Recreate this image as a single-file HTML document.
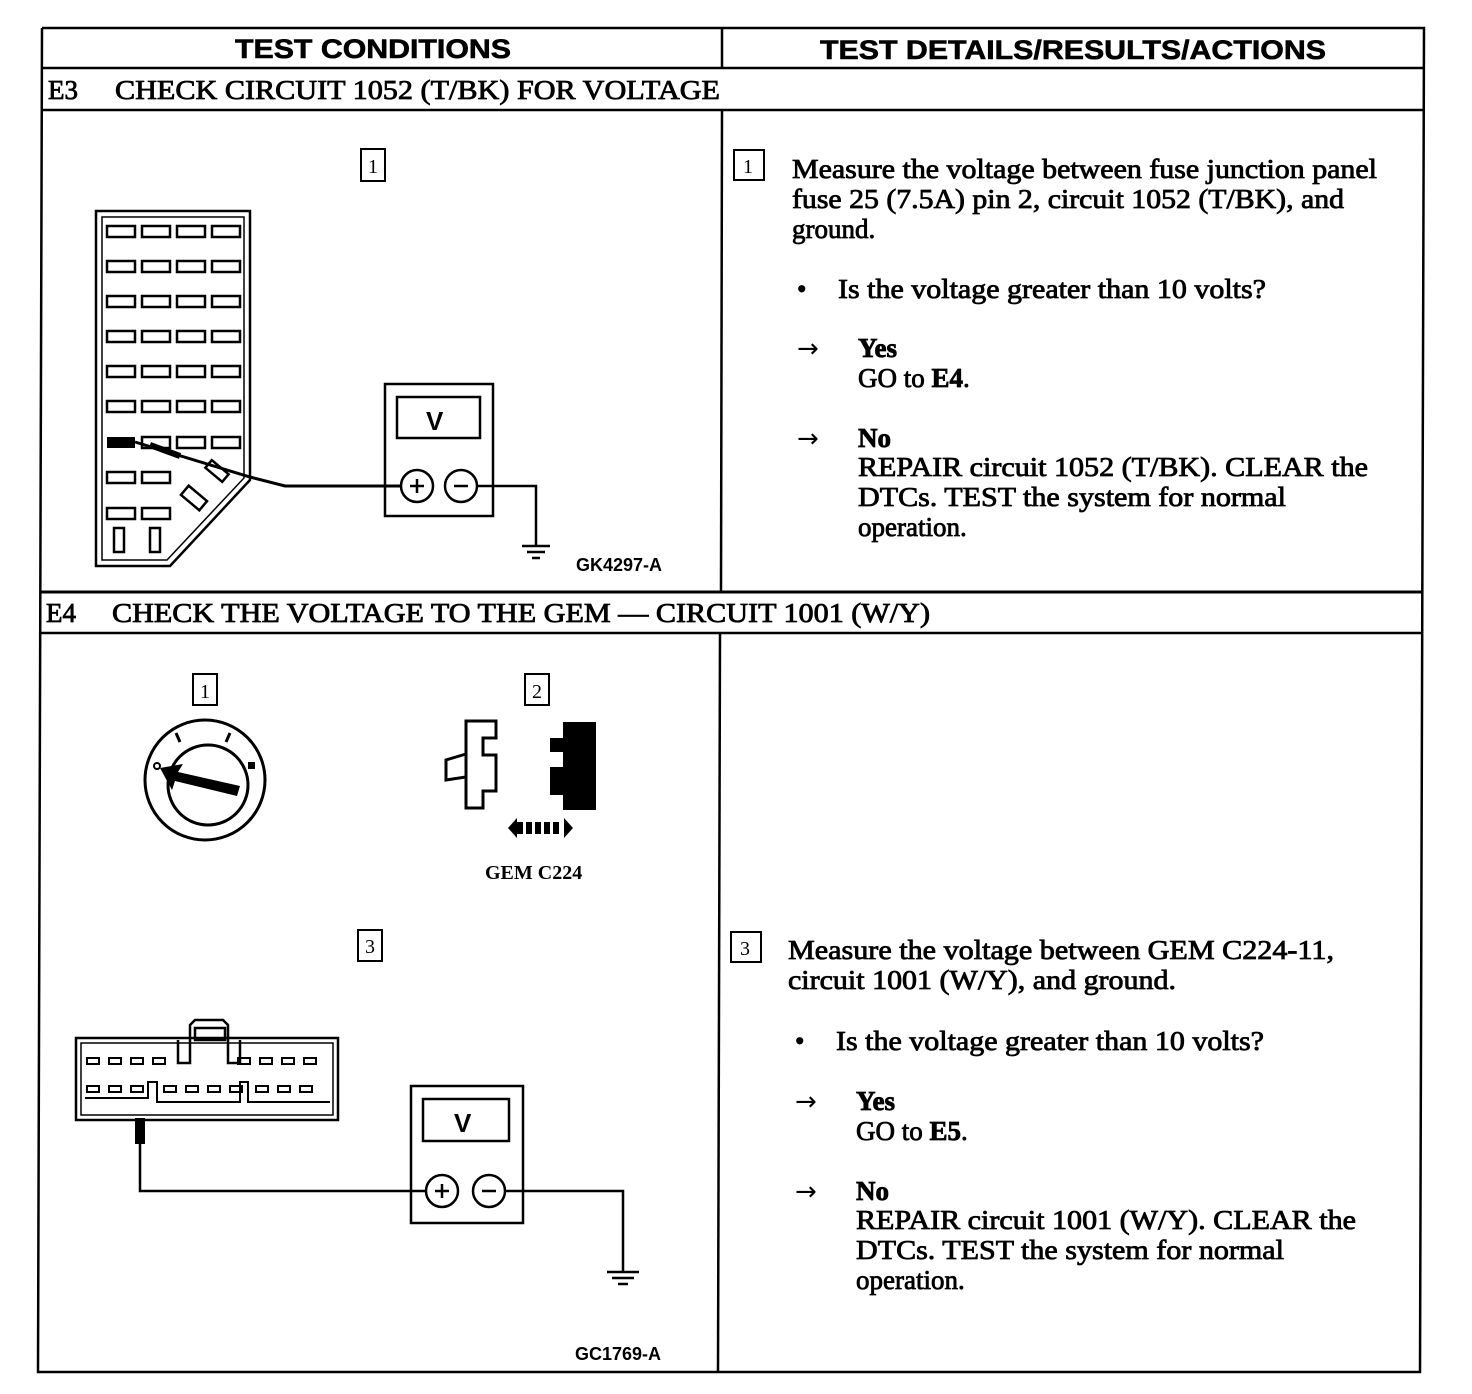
<!DOCTYPE html>
<html><head><meta charset="utf-8"><style>
html,body{margin:0;padding:0;background:#fff;}
svg{display:block;}
.t{font-family:"Liberation Serif",serif;font-size:27px;fill:#000;stroke:#000;stroke-width:0.8;}
.b{font-weight:bold;}
.a{font-family:"DejaVu Sans",sans-serif;font-size:26px;fill:#000;}
.h{font-family:"Liberation Sans",sans-serif;font-weight:bold;font-size:27px;fill:#000;stroke:#000;stroke-width:0.6;}
.s{font-family:"Liberation Sans",sans-serif;font-weight:bold;font-size:18px;fill:#000;}
.n{font-family:"Liberation Serif",serif;font-size:20px;fill:#000;}
</style></head><body>
<svg width="1472" height="1394" viewBox="0 0 1472 1394" xmlns="http://www.w3.org/2000/svg">
<g stroke="#000" fill="none" stroke-width="2.5">
<polyline points="42,28 1424,28 1420,1372 38,1372 42,28"/>
<line x1="42" y1="68" x2="1424" y2="68"/>
<line x1="42" y1="110" x2="1424" y2="110"/>
<line x1="41" y1="592" x2="1422" y2="592" stroke-width="3"/>
<line x1="41" y1="633" x2="1422" y2="633"/>
<line x1="722" y1="28" x2="722" y2="68"/>
<line x1="722" y1="110" x2="721" y2="592"/>
<line x1="720" y1="633" x2="718" y2="1372"/>
</g>
<text class="h" x="235" y="58" textLength="276" lengthAdjust="spacingAndGlyphs">TEST CONDITIONS</text>
<text class="h" x="820" y="59" textLength="506" lengthAdjust="spacingAndGlyphs">TEST DETAILS/RESULTS/ACTIONS</text>
<text class="t" x="48" y="99">E3</text>
<text class="t" x="115" y="99" textLength="605" lengthAdjust="spacingAndGlyphs">CHECK CIRCUIT 1052 (T/BK) FOR VOLTAGE</text>
<text class="t" x="46" y="622">E4</text>
<text class="t" x="112" y="622" textLength="818" lengthAdjust="spacingAndGlyphs">CHECK THE VOLTAGE TO THE GEM — CIRCUIT 1001 (W/Y)</text>

<g stroke="#000" fill="none" stroke-width="2"><rect x="734" y="150" width="30" height="30"/><rect x="361" y="149" width="24" height="32"/>
<rect x="731" y="932" width="30" height="30"/><rect x="358" y="930" width="24" height="31"/>
<rect x="193" y="674" width="24" height="31"/><rect x="525" y="674" width="24" height="31"/></g>
<text class="n" x="743" y="173">1</text><text class="n" x="368" y="173">1</text>
<text class="n" x="740" y="955">3</text><text class="n" x="365" y="953">3</text>
<text class="n" x="200" y="698">1</text><text class="n" x="532" y="698">2</text>

<text class="t" x="792" y="178" textLength="585" lengthAdjust="spacingAndGlyphs">Measure the voltage between fuse junction panel</text>
<text class="t" x="792" y="208" textLength="552" lengthAdjust="spacingAndGlyphs">fuse 25 (7.5A) pin 2, circuit 1052 (T/BK), and</text>
<text class="t" x="792" y="238">ground.</text>
<text class="t" x="797" y="298">•</text>
<text class="t" x="838" y="298" textLength="428" lengthAdjust="spacingAndGlyphs">Is the voltage greater than 10 volts?</text>
<text class="a" x="797" y="357">→</text>
<text class="t b" x="858" y="357">Yes</text>
<text class="t" x="858" y="387">GO to <tspan class="b">E4</tspan>.</text>
<text class="a" x="797" y="447">→</text>
<text class="t b" x="858" y="447">No</text>
<text class="t" x="858" y="476" textLength="510" lengthAdjust="spacingAndGlyphs">REPAIR circuit 1052 (T/BK). CLEAR the</text>
<text class="t" x="858" y="506" textLength="428" lengthAdjust="spacingAndGlyphs">DTCs. TEST the system for normal</text>
<text class="t" x="858" y="536">operation.</text>

<text class="t" x="788" y="959" textLength="546" lengthAdjust="spacingAndGlyphs">Measure the voltage between GEM C224-11,</text>
<text class="t" x="788" y="989" textLength="388" lengthAdjust="spacingAndGlyphs">circuit 1001 (W/Y), and ground.</text>
<text class="t" x="795" y="1050">•</text>
<text class="t" x="836" y="1050" textLength="428" lengthAdjust="spacingAndGlyphs">Is the voltage greater than 10 volts?</text>
<text class="a" x="795" y="1110">→</text>
<text class="t b" x="856" y="1110">Yes</text>
<text class="t" x="856" y="1140">GO to <tspan class="b">E5</tspan>.</text>
<text class="a" x="795" y="1200">→</text>
<text class="t b" x="856" y="1200">No</text>
<text class="t" x="856" y="1229" textLength="500" lengthAdjust="spacingAndGlyphs">REPAIR circuit 1001 (W/Y). CLEAR the</text>
<text class="t" x="856" y="1259" textLength="428" lengthAdjust="spacingAndGlyphs">DTCs. TEST the system for normal</text>
<text class="t" x="856" y="1289">operation.</text>

<g stroke="#000" fill="none" stroke-width="2.5">
<polygon points="96,211 250,211 250,480 170,566 96,566"/>
<polygon points="102,217 244,217 244,478 167,560 102,560" stroke-width="1.5"/>
</g>
<g stroke="#000" fill="none" stroke-width="2.5">
<rect x="107" y="226" width="28" height="11"/><rect x="142" y="226" width="28" height="11"/><rect x="177" y="226" width="28" height="11"/><rect x="212" y="226" width="28" height="11"/>
<rect x="107" y="261" width="28" height="11"/><rect x="142" y="261" width="28" height="11"/><rect x="177" y="261" width="28" height="11"/><rect x="212" y="261" width="28" height="11"/>
<rect x="107" y="296" width="28" height="11"/><rect x="142" y="296" width="28" height="11"/><rect x="177" y="296" width="28" height="11"/><rect x="212" y="296" width="28" height="11"/>
<rect x="107" y="331" width="28" height="11"/><rect x="142" y="331" width="28" height="11"/><rect x="177" y="331" width="28" height="11"/><rect x="212" y="331" width="28" height="11"/>
<rect x="107" y="366" width="28" height="11"/><rect x="142" y="366" width="28" height="11"/><rect x="177" y="366" width="28" height="11"/><rect x="212" y="366" width="28" height="11"/>
<rect x="107" y="401" width="28" height="11"/><rect x="142" y="401" width="28" height="11"/><rect x="177" y="401" width="28" height="11"/><rect x="212" y="401" width="28" height="11"/>
<rect x="142" y="437" width="28" height="11"/><rect x="177" y="437" width="28" height="11"/><rect x="212" y="437" width="28" height="11"/>
<rect x="107" y="472" width="28" height="11"/><rect x="142" y="472" width="28" height="11"/>
<rect x="107" y="508" width="28" height="11"/><rect x="142" y="508" width="28" height="11"/>
<rect x="114" y="528" width="10" height="24"/><rect x="150" y="528" width="10" height="24"/>
<rect x="182" y="492" width="24" height="12" transform="rotate(40 194 498)"/>
<rect x="206" y="466" width="22" height="10" transform="rotate(40 217 471)"/>
</g>
<rect x="107" y="437" width="28" height="11" fill="#000"/>
<g stroke="#000" fill="none" stroke-width="3">
<polyline points="135,442 250,477 285,486 400,486"/>
<line x1="150" y1="445" x2="180" y2="456" stroke-width="6"/>
</g>
<g stroke="#000" fill="none" stroke-width="2.5">
<rect x="385" y="384" width="108" height="132"/>
<rect x="397" y="397" width="83" height="41"/>
<circle cx="417" cy="486" r="16"/><circle cx="461" cy="486" r="16"/>
<polyline points="477,486 536,486 536,546"/>
<line x1="522" y1="546" x2="550" y2="546"/><line x1="527" y1="552" x2="545" y2="552"/><line x1="532" y1="558" x2="540" y2="558"/>
<line x1="417" y1="479" x2="417" y2="493"/><line x1="410" y1="486" x2="424" y2="486"/><line x1="454" y1="486" x2="468" y2="486"/>
</g>
<text x="426" y="430" font-family="Liberation Sans,sans-serif" font-weight="bold" font-size="26">V</text>
<text class="s" x="576" y="571">GK4297-A</text>

<g stroke="#000" fill="none" stroke-width="3">
<circle cx="205" cy="780" r="60"/>
<circle cx="208" cy="785" r="40"/>
<line x1="176" y1="733" x2="180" y2="742"/><line x1="230" y1="733" x2="226" y2="742"/>
</g>
<polygon points="160,768 183,764 178,772 240,786 237,796 175,781 172,790" fill="#000"/>
<circle cx="157" cy="766" r="3" fill="none" stroke="#000" stroke-width="2"/>
<rect x="248" y="762" width="7" height="7" fill="#000"/>

<g stroke="#000" fill="none" stroke-width="3">
<polygon points="466,721 496,721 496,738 483,738 483,755 496,755 496,791 483,791 483,808 466,808"/>
<polygon points="466,754 446,760 446,780 466,777"/>
</g>
<polygon points="563,722 596,722 596,810 563,810 563,795 550,795 550,767 563,767 563,752 550,752 550,738 563,738" fill="#000"/>
<polygon points="508,828 517,818 517,838" fill="#000"/>
<polygon points="573,828 564,818 564,838" fill="#000"/>
<g fill="#000"><rect x="517" y="822" width="6" height="12"/><rect x="526" y="822" width="6" height="12"/><rect x="535" y="822" width="6" height="12"/><rect x="544" y="822" width="6" height="12"/><rect x="553" y="822" width="6" height="12"/></g>
<text x="485" y="879" font-family="Liberation Serif,serif" font-weight="bold" font-size="20">GEM C224</text>

<g stroke="#000" fill="none" stroke-width="2.5">
<rect x="76" y="1038" width="262" height="82"/>
<rect x="81" y="1043" width="252" height="72" stroke-width="1.5"/>
<path d="M178,1040 L178,1063 L190,1063 L190,1025 L195,1020 L223,1020 L228,1025 L228,1063 L240,1063 L240,1040"/>
<rect x="195" y="1028" width="30" height="12"/>
<path d="M85,1098 L148,1098 L148,1082 L157,1082 L157,1102 L240,1102 L240,1082 L248,1082 L248,1102 L330,1102" stroke-width="2"/>
</g>
<g fill="none" stroke="#000" stroke-width="2">
<rect x="87" y="1058" width="12" height="6"/><rect x="109" y="1058" width="12" height="6"/><rect x="131" y="1058" width="12" height="6"/><rect x="153" y="1058" width="12" height="6"/>
<rect x="238" y="1058" width="12" height="6"/><rect x="260" y="1058" width="12" height="6"/><rect x="282" y="1058" width="12" height="6"/><rect x="304" y="1058" width="12" height="6"/>
<rect x="87" y="1086" width="12" height="6"/><rect x="109" y="1086" width="12" height="6"/><rect x="131" y="1086" width="12" height="6"/>
<rect x="164" y="1086" width="12" height="6"/><rect x="186" y="1086" width="12" height="6"/><rect x="208" y="1086" width="12" height="6"/><rect x="230" y="1086" width="12" height="6"/>
<rect x="256" y="1086" width="12" height="6"/><rect x="278" y="1086" width="12" height="6"/><rect x="300" y="1086" width="12" height="6"/>
</g>
<rect x="135" y="1118" width="10" height="26" fill="#000"/>
<g stroke="#000" fill="none" stroke-width="2.5">
<polyline points="140,1144 140,1191 426,1191"/>
<rect x="411" y="1086" width="112" height="137"/>
<rect x="423" y="1099" width="86" height="42"/>
<circle cx="442" cy="1191" r="16"/><circle cx="489" cy="1191" r="16"/>
<polyline points="505,1191 623,1191 623,1272"/>
<line x1="607" y1="1272" x2="639" y2="1272"/><line x1="612" y1="1278" x2="634" y2="1278"/><line x1="618" y1="1284" x2="628" y2="1284"/>
<line x1="442" y1="1184" x2="442" y2="1198"/><line x1="435" y1="1191" x2="449" y2="1191"/><line x1="482" y1="1191" x2="496" y2="1191"/>
</g>
<text x="454" y="1132" font-family="Liberation Sans,sans-serif" font-weight="bold" font-size="26">V</text>
<text class="s" x="575" y="1360">GC1769-A</text>
</svg>
</body></html>
